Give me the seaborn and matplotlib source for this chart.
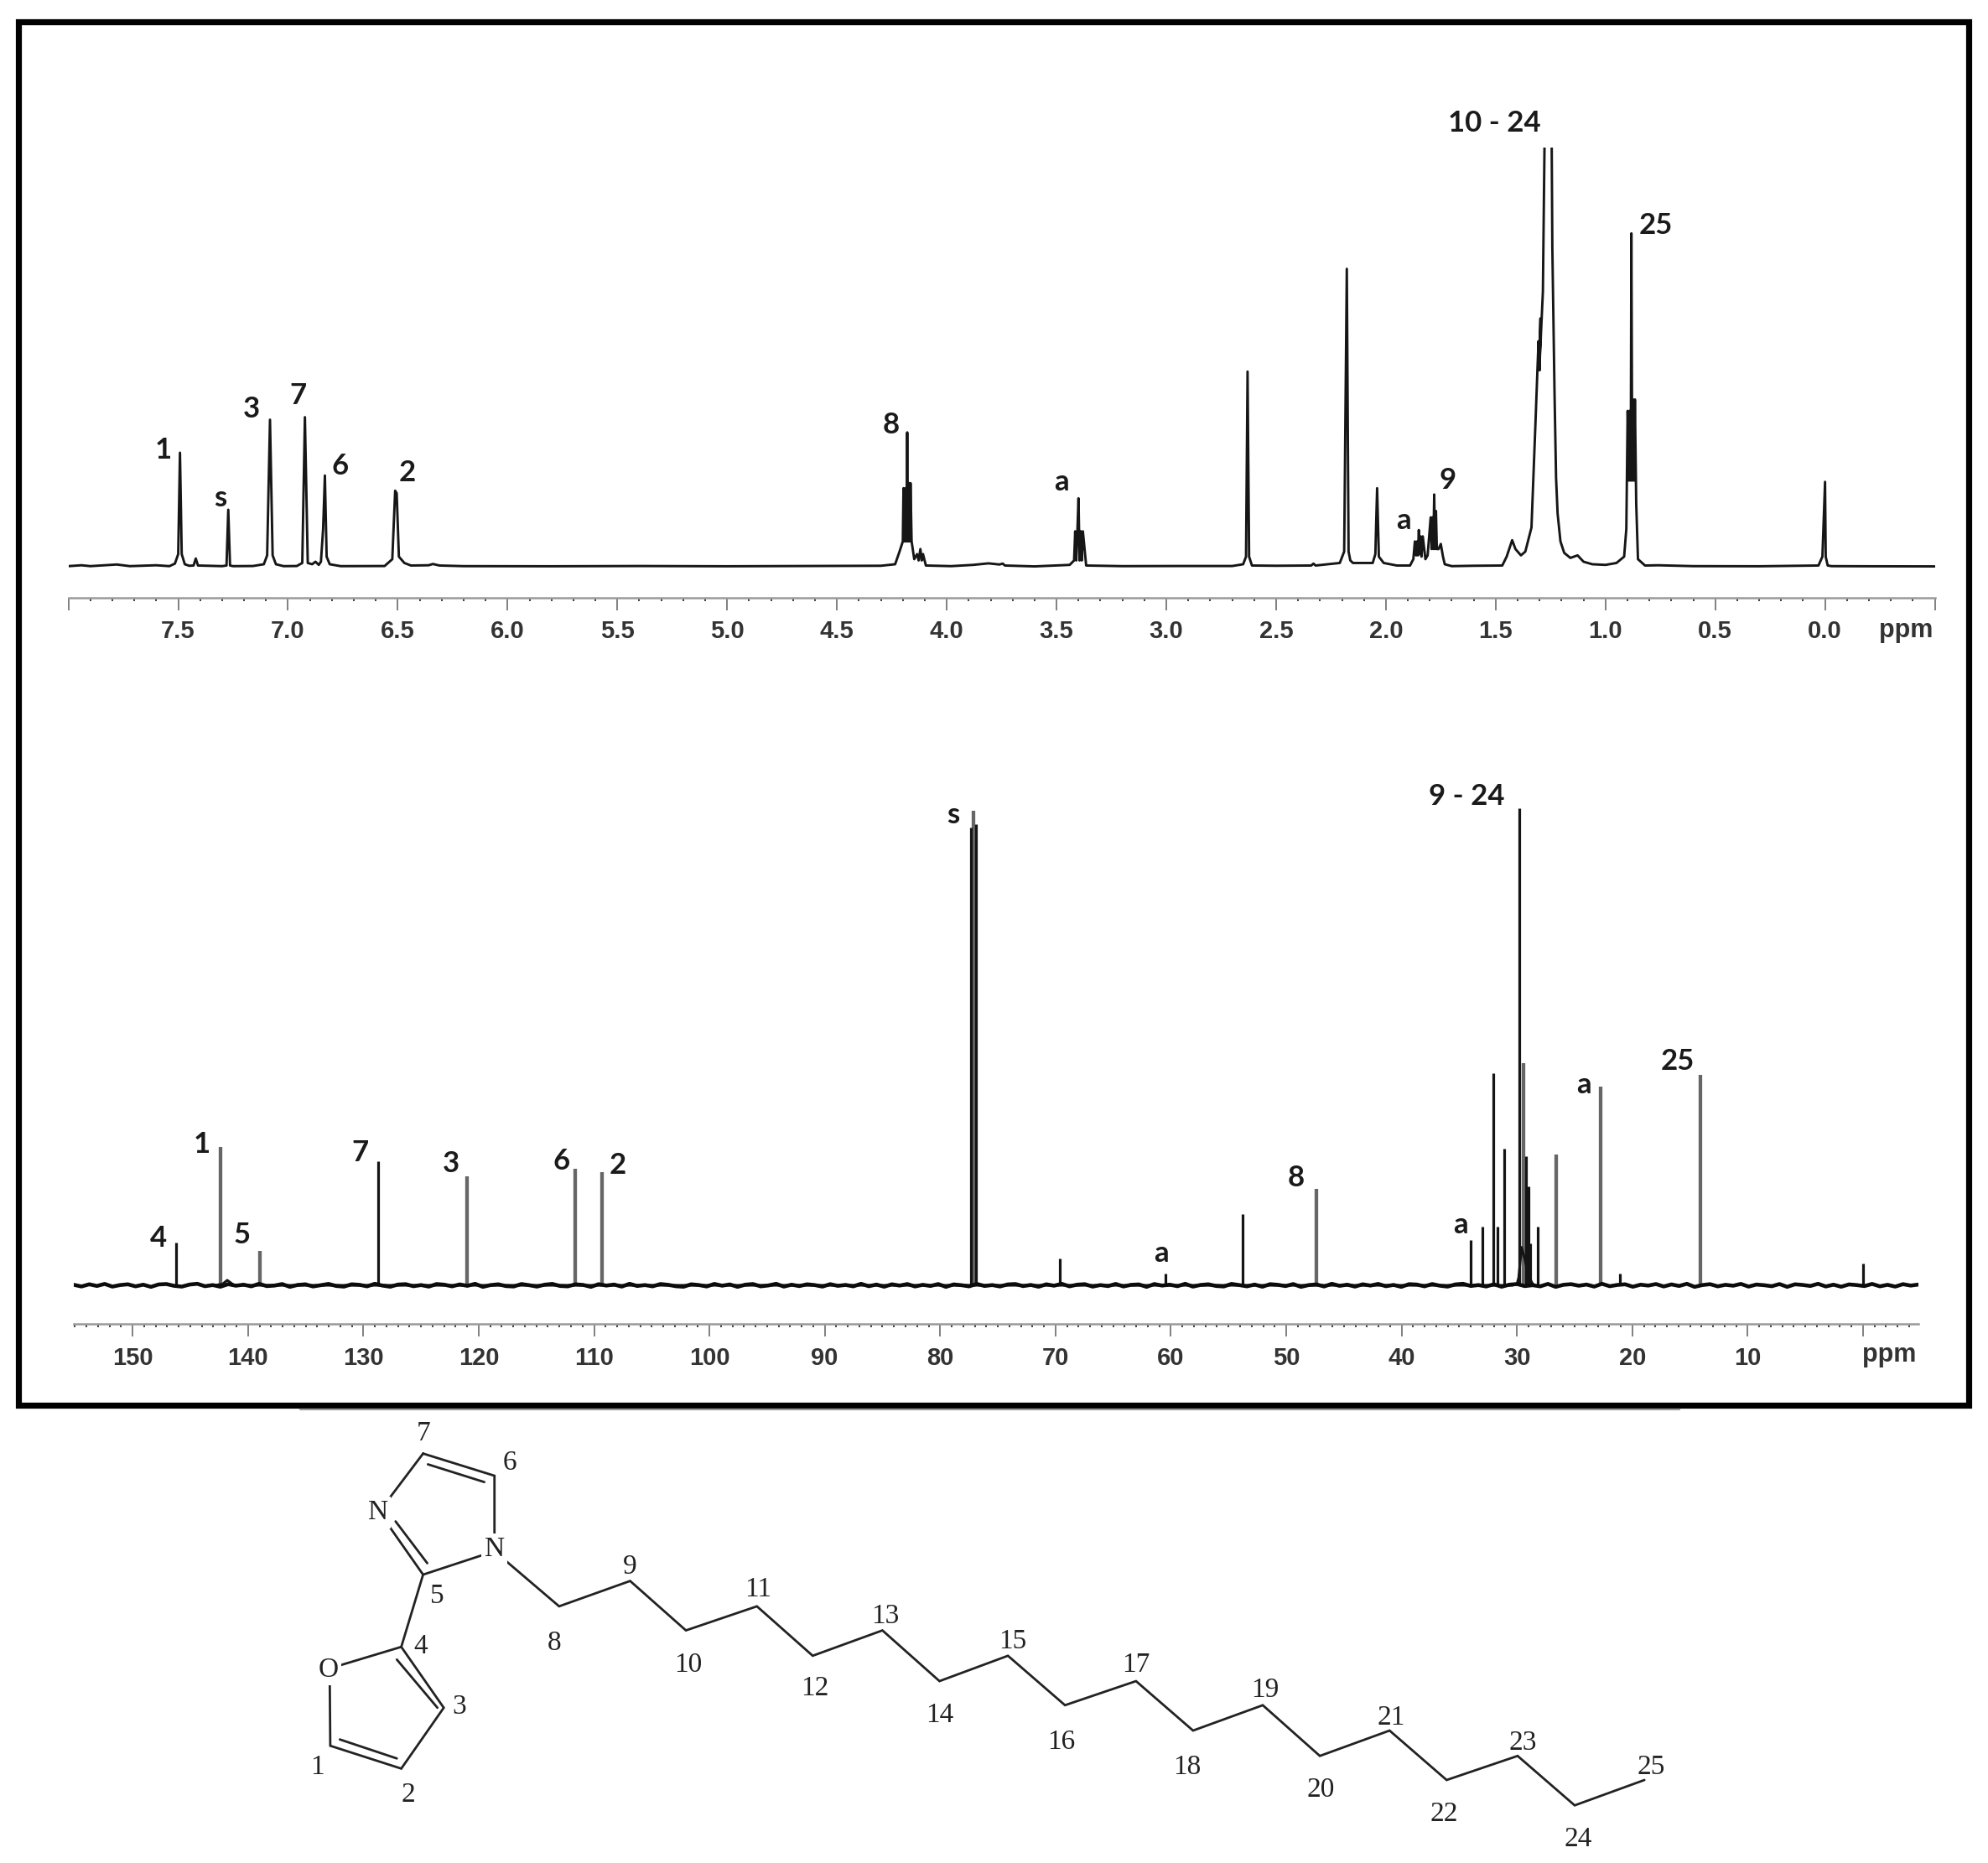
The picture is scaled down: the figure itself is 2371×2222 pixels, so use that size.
import numpy as np
import seaborn as sns
import matplotlib.pyplot as plt
from matplotlib.patches import Rectangle
from matplotlib.ticker import FixedLocator, FixedFormatter, NullFormatter

W, H = 2371, 2222
S = 1568 / 2371  # labels and molecule were read on the shrunk picture

# 1H spectrum, intensity in shrunk pixels above the baseline
h_ppm = [8.00, 7.94, 7.90, 7.78, 7.72, 7.60, 7.54, 7.515, 7.50, 7.492, 7.484, 7.47, 7.45,
         7.43, 7.42, 7.41, 7.30, 7.28, 7.272, 7.264, 7.25, 7.16, 7.11, 7.095, 7.082, 7.07, 7.055, 7.02,
         6.96, 6.935, 6.923, 6.91, 6.89, 6.875, 6.86, 6.85, 6.84, 6.832, 6.824, 6.81, 6.76,
         6.56, 6.525, 6.512, 6.505, 6.495, 6.47, 6.44, 6.36, 6.34, 6.31, 6.20,
         5.80, 5.40, 5.00, 4.60, 4.30, 4.235, 4.215, 4.20, 4.197, 4.192, 4.188, 4.184, 4.18, 4.176, 4.172, 4.168, 4.165, 4.16,
         4.148, 4.135, 4.128, 4.12, 4.114, 4.108, 4.095, 3.98, 3.88, 3.81, 3.76, 3.745, 3.735, 3.60,
         3.44, 3.42, 3.415, 3.41, 3.405, 3.40, 3.395, 3.39, 3.385, 3.38, 3.365, 3.20, 2.95, 2.70,
         2.65, 2.637, 2.63, 2.623, 2.61, 2.50, 2.34, 2.33, 2.32, 2.21, 2.19, 2.178, 2.17, 2.162, 2.15,
         2.06, 2.048, 2.04, 2.032, 2.01, 1.95, 1.89, 1.875, 1.868, 1.862, 1.858, 1.854, 1.85, 1.846, 1.842, 1.838,
         1.832, 1.82, 1.81, 1.796, 1.792, 1.788, 1.784, 1.78, 1.776, 1.772, 1.768, 1.76, 1.75, 1.74, 1.732, 1.70,
         1.60, 1.47, 1.45, 1.425, 1.41, 1.385, 1.365, 1.337, 1.32, 1.305, 1.30, 1.296, 1.30, 1.285, 1.272,
         1.27, 1.248, 1.242, 1.232, 1.225, 1.218, 1.205, 1.188, 1.16, 1.127, 1.10, 1.06, 1.00, 0.95,
         0.915, 0.905, 0.899, 0.893, 0.889, 0.885, 0.882, 0.878, 0.875, 0.870, 0.866, 0.860, 0.852, 0.82, 0.76, 0.60,
         0.30, 0.03, 0.012, 0.0, -0.003, -0.012, -0.03, -0.20, -0.50]
h_int = [0.5, 1.2, 0.5, 1.8, 0.5, 1.2, 0.5, 2.5, 10, 90, 10, 2, 0.8,
         1, 6.5, 1, 0.5, 1, 45, 1, 0.5, 0.6, 2, 9, 116, 9, 2, 0.5,
         0.6, 3, 118, 3, 2, 4, 1.5, 4, 30, 72, 8, 2, 0.5,
         0.6, 6, 60, 58, 8, 3, 1, 1.2, 2.2, 1, 0.5,
         0.4, 0.6, 0.4, 0.6, 0.8, 2, 12, 20, 62, 20, 62, 20, 106, 20, 66, 20, 66, 20,
         6, 10, 5, 14, 5, 10, 1, 0.5, 1.5, 2.7, 1.8, 2.5, 1, 0.3,
         1.5, 5, 28, 5, 28, 54, 5, 28, 5, 28, 1, 0.5, 0.6, 0.6,
         2, 8, 154, 8, 1, 0.8, 1, 2.5, 1, 3, 12, 235, 12, 5, 3,
         3, 10, 62, 8, 3, 1, 1, 6, 20, 9, 20, 9, 29, 10, 24, 8,
         24, 6, 9, 39, 14, 39, 14, 57, 14, 44, 14, 14, 18, 8, 2, 0.5,
         0.8, 1, 8, 21, 14, 9, 12, 31, 108, 178, 155, 196, 160, 217, 420,
         420, 420, 252, 137, 70, 42, 20, 11, 7, 9, 4, 2, 1.5, 3,
         8, 30, 123, 68, 123, 68, 263, 68, 132, 68, 132, 50, 6, 1, 1.2, 0.5,
         0.4, 1, 8, 67, 8, 1, 0.5, 0.4, 0.3]
h_major = [8.0, 7.5, 7.0, 6.5, 6.0, 5.5, 5.0, 4.5, 4.0, 3.5, 3.0, 2.5, 2.0, 1.5, 1.0, 0.5, 0.0, -0.5]
h_ticklabels = ["", "7.5", "7.0", "6.5", "6.0", "5.5", "5.0", "4.5", "4.0", "3.5", "3.0", "2.5",
                "2.0", "1.5", "1.0", "0.5", "0.0", ""]

# 13C spectrum
c_noise = [0.4, -0.9, 0.8, -0.5, 1.1, -1.0, 0.2, 0.8, -0.8, 0.5, -1.2, 0.7, 1.0, -0.4, -1.0, 0.6, 1.2, -0.7, 0.2, -1.1,
           0.9, -0.3, 0.5, -0.8, 1.2, -0.6, -0.2, 1.0, -1.2, 0.3, 0.8, -0.9, 0.1, 1.1, -0.5, -1.0, 0.8, 0.4, -0.8, 1.2,
           -0.2, -1.1, 0.6, 0.9, -0.7, 0.2, -1.0, 1.0, 0.5, -0.8, 0.7, -0.4, 1.2, -1.2, 0.2, 0.8, -0.6, -0.9, 1.0, 0.1,
           -1.0, 0.5, 1.1, -0.5, -0.8, 0.8, 0.3, -1.2, 0.9, -0.2, 0.6, -1.0, 1.2, -0.5, 0.2, -0.8, 1.0, 0.4, -0.7, -1.1,
           0.8, 0.2, -0.9, 1.1, -0.3, 0.7, -1.2, 0.5, 1.0, -0.8, -0.1, 1.2, -1.0, 0.5, -0.6, 0.8, 0.2, -1.0, 0.9, -0.4,
           0.3, -0.8, 1.2, -0.7, 0.6, -1.1, 0.8, -0.2, 1.0, -0.9, 0.4, -0.5, 1.0, -1.2, 0.7, 0.1, -0.8, 1.1, -0.5, 0.2,
           -0.9, 0.7, 1.0, -0.6, 0.3, -1.1, 0.8, -0.3, 1.2, -0.8, 0.5, 0.9, -1.0, 0.2, -0.6, 1.1, -0.9, 0.4, 0.7, -1.2,
           1.0, -0.2, 0.5, -0.7, 1.2, -1.0, 0.3, 0.8, -0.5, -0.9, 1.1, 0.2, -0.8, 0.6, -1.1, 0.9, 0.4, -0.6, 1.0, -1.2,
           0.2, 0.7, -0.9, 1.2, -0.4, 0.5, -1.0, 0.8, -0.2, 1.1, -0.7, 0.3, -1.2, 0.9, 0.6, -0.8, 1.0, -0.3, -1.0, 0.7,
           1.2, -0.5, 0.2, -0.9, 0.8, -1.1, 0.5, 1.0, -0.6, 0.1, -0.8, 1.1, -1.2, 0.4, 0.9, -0.3, 0.6, -1.0, 1.2, -0.7,
           0.3, 0.8, -1.1, 0.5, -0.2, 1.0, -0.9, 0.7, -0.5, 1.2, -1.2, 0.2, 0.9, -0.8, 0.4, -0.3, 1.1, -1.0, 0.6, 0.1,
           -0.7, 1.0, -1.2, 0.8, 0.3, -0.5, 1.2, -0.9, 0.5, -1.1, 0.7, 0.2, -0.6, 1.1, -0.8, 0.4, -1.0, 0.9, -0.2, 0.6]
c_dark_ppm = [146.2, 128.7, 77.33, 76.93, 69.6, 60.5, 53.8, 34.0, 32.96, 32.06, 31.7, 31.1, 29.77, 29.2, 29.0, 28.84, 28.2, 21.1, 0.0]
c_dark_int = [34, 98, 361, 364, 21, 9, 56, 36, 46, 167, 46, 108, 376, 102, 78, 33, 46, 9, 17]
c_grey_ppm = [142.4, 139.0, 121.0, 111.6, 109.3, 77.11, 47.4, 29.44, 26.6, 22.77, 14.1]
c_grey_int = [109, 27, 86, 92, 89, 374, 76, 175, 103, 157, 166]
c_foot_ppm = [142.9, 142.2, 141.8, 141.2, 30.4, 30.0, 29.85, 29.6, 29.3, 29.0, 28.7, 28.5]
c_foot_int = [0, 1, 4, 0, 0, 1, 6, 30, 20, 8, 2, 0]
c_major = [150, 140, 130, 120, 110, 100, 90, 80, 70, 60, 50, 40, 30, 20, 10, 0]
c_ticklabels = ["150", "140", "130", "120", "110", "100", "90", "80", "70", "60", "50", "40", "30", "20", "10", ""]

# peak assignments (shrunk picture position)
h_labels = ["1", "s", "3", "7", "6", "2", "8", "a", "a", "9", "10 - 24", "25"]
h_label_x = [129, 174, 198, 235, 268, 321, 703, 837, 1107, 1142, 1179, 1306]
h_label_y = [355, 393, 323, 312, 368, 373, 335, 380, 411, 379, 97, 178]
c_labels = ["4", "1", "5", "7", "3", "6", "2", "s", "8", "a", "a", "9 - 24", "a", "25"]
c_label_x = [125, 159, 191, 284, 356, 443, 487, 752, 1022, 916, 1152, 1157, 1249, 1323]
c_label_y = [977, 903, 974, 909, 918, 916, 919, 643, 929, 989, 966, 628, 856, 837]

# molecule, shrunk picture position
ring_x = [333.7, 390, 390, 333.7, 299, 333.7]
ring_y = [1146.5, 1164, 1223.5, 1242, 1192.5, 1146.5]
furan_x = [316.5, 260, 260.5, 316.5, 350, 316.5]
furan_y = [1299, 1316, 1377, 1395, 1347, 1299]
link_x = [333.7, 316.5]
link_y = [1242, 1299]
chain_x = [390, 441, 497, 541, 597, 641, 696, 741, 795, 840, 896, 941, 996, 1041, 1096, 1141, 1197, 1242, 1297]
chain_y = [1223.5, 1267, 1247, 1286, 1267, 1306, 1286, 1326, 1306, 1345, 1326, 1365, 1345, 1385, 1365, 1404, 1385, 1424, 1404]
double_x = [[337.5, 382], [312, 337], [313, 345], [268, 313]]
double_y = [[1155, 1169], [1200, 1233], [1309, 1347], [1372, 1387]]
atoms = ["N", "N", "O"]
atom_x = [298, 390, 259]
atom_y = [1193, 1222, 1317]
numbers = [str(n) for n in range(1, 26)]
number_x = [250, 322, 362, 332, 345, 402, 334, 437, 497, 543, 598, 643, 698, 741, 799, 837, 896, 936, 998, 1042, 1097, 1139, 1201, 1245, 1302]
number_y = [1394, 1416, 1346, 1299, 1259, 1154, 1131, 1296, 1236, 1313, 1254, 1332, 1275, 1353, 1295, 1374, 1313, 1394, 1333, 1412, 1355, 1431, 1375, 1451, 1394]

sns.set_theme(style="white")
plt.rcParams['font.family'] = ['Liberation Sans', 'DejaVu Sans']

fig = plt.figure(figsize=(W / 100, H / 100), dpi=100, facecolor="white")


def spectrum_axes(left, right, top, bottom, base):
    ax = fig.add_axes([left / W, 1 - bottom / H, (right - left) / W, (bottom - top) / H])
    ax.patch.set_alpha(0)
    ax.set_ylim(-(bottom - base) * S, (base - top) * S)
    sns.despine(ax=ax, left=True)
    ax.spines["bottom"].set_color("#9a9a9a")
    ax.spines["bottom"].set_linewidth(1.8)
    ax.set_yticks([])
    ax.grid(False)
    return ax


def set_ticks(ax, major, labels, minor, pad):
    ax.xaxis.set_major_locator(FixedLocator(major))
    ax.xaxis.set_major_formatter(FixedFormatter(labels))
    ax.xaxis.set_minor_locator(FixedLocator(minor))
    ax.xaxis.set_minor_formatter(NullFormatter())
    ax.tick_params(axis="x", which="major", bottom=True, length=10.5, width=1.4, color="#808080",
                   labelsize=21, labelcolor="#333333", pad=pad)
    ax.tick_params(axis="x", which="minor", bottom=True, length=3, width=1.3, color="#333333")
    for lab in ax.get_xticklabels():
        lab.set_fontweight("bold")


# 1H
ax1 = spectrum_axes(81.6, 2307.6, 176, 713, 676)
sns.lineplot(x=h_ppm, y=h_int, sort=False, estimator=None, color="#161616", linewidth=2.1, ax=ax1)
ax1.set_xlim(8.0, -0.5)
set_ticks(ax1, h_major, h_ticklabels, np.arange(8.0, -0.55, -0.1), 8)

# 13C
ax2 = spectrum_axes(88, 2288, 950, 1579, 1533)
c_base_ppm = np.linspace(155.1, -4.8, len(c_noise))
ax2.vlines(c_grey_ppm, 0, c_grey_int, color="#666666", linewidth=3.1)
ax2.vlines(c_dark_ppm, 0, c_dark_int, color="#141414", linewidth=2.3)
sns.lineplot(x=c_foot_ppm, y=c_foot_int, sort=False, estimator=None, color="#141414", linewidth=2.2, ax=ax2)
sns.lineplot(x=c_base_ppm, y=c_noise, sort=False, estimator=None, color="#0c0c0c", linewidth=3.3, ax=ax2)
ax2.set_xlim(155.1, -4.8)
set_ticks(ax2, c_major, c_ticklabels, np.arange(155, -5, -1), 9)

# overlay in picture coordinates: frame, labels and molecule
ov = fig.add_axes([0, 0, 1, 1])
ov.patch.set_alpha(0)
ov.set_xlim(0, 1568)
ov.set_ylim(H * S, 0)
ov.axis("off")

ov.add_patch(Rectangle((22 * S, 26 * S), (2348 - 22) * S, (1675.5 - 26) * S, fill=False, edgecolor="black", linewidth=5.2))
ov.plot([358 * S, 2003 * S], [1680.5 * S, 1680.5 * S], color="#9a9a9a", linewidth=1.6)

for txt, x, y in zip(h_labels + c_labels, h_label_x + c_label_x, h_label_y + c_label_y):
    ov.text(x, y, txt, family=["Lato", "DejaVu Sans"], fontweight="bold", fontsize=25, color="#1a1a1a", ha="center", va="center")
ov.text(1503, 497, "ppm", fontsize=22, fontweight="bold", color="#333333", ha="center", va="center")
ov.text(1490, 1069, "ppm", fontsize=22, fontweight="bold", color="#333333", ha="center", va="center")

for xs, ys in [(ring_x, ring_y), (furan_x, furan_y), (link_x, link_y), (chain_x, chain_y)]:
    ov.plot(xs, ys, color="#222222", linewidth=2.0, solid_joinstyle="miter")
for xs, ys in zip(double_x, double_y):
    ov.plot(xs, ys, color="#222222", linewidth=2.0)
for txt, x, y in zip(atoms, atom_x, atom_y):
    ov.text(x, y, txt, family=["Liberation Serif"], fontsize=24, color="#222222", ha="center", va="center",
            bbox=dict(facecolor="white", edgecolor="none", pad=2.5))
for txt, x, y in zip(numbers, number_x, number_y):
    ov.text(x, y, txt, family=["Liberation Serif"], fontsize=24, color="#222222", ha="center", va="center")

fig.savefig("out.png", dpi=100)
